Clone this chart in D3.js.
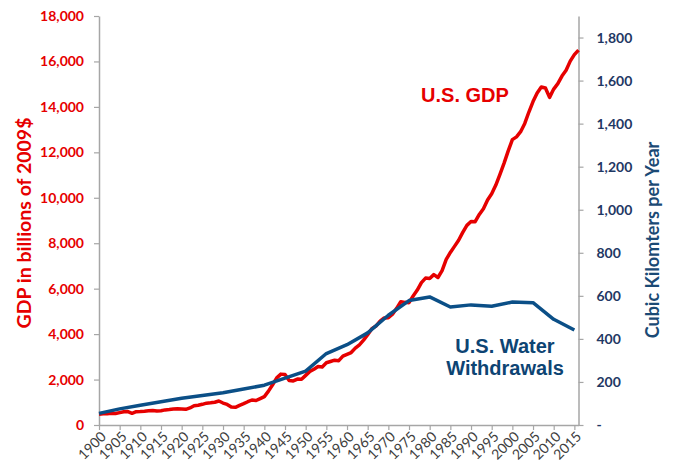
<!DOCTYPE html>
<html>
<head>
<meta charset="utf-8">
<script src="https://cdn.jsdelivr.net/npm/d3@7"></script>
<style>
  body { margin: 0; background: #fff; }
  svg text { font-family: Lato, "Open Sans", sans-serif; }
</style>
</head>
<body>
<div id="chart"></div>
<script>
// real GDP, billions of 2009$
const gdpYears = d3.range(1900, 2017);
const gdpValues = [
  470, 490, 500, 513, 505, 545, 585, 590, 515, 585,
  595, 610, 630, 640, 615, 630, 665, 680, 704, 710,
  704, 690, 750, 850, 870, 910, 960, 975, 1000, 1056,
  966, 904, 788, 778, 862, 939, 1025, 1100, 1078, 1164,
  1250, 1490, 1772, 2073, 2239, 2218, 1960, 1939, 2020, 2009,
  2184, 2360, 2456, 2571, 2556, 2739, 2794, 2853, 2832, 3029,
  3108, 3188, 3384, 3530, 3735, 3976, 4238, 4355, 4569, 4712,
  4722, 4878, 5134, 5424, 5397, 5385, 5675, 5937, 6267, 6466,
  6450, 6618, 6491, 6792, 7285, 7594, 7861, 8133, 8475, 8786,
  8955, 8948, 9267, 9521, 9905, 10175, 10562, 11035, 11526, 12066,
  12560, 12682, 12909, 13271, 13774, 14234, 14614, 14874, 14830, 14419,
  14784, 15021, 15355, 15612, 16013, 16300, 16500
];

// water withdrawals, cubic km per year
const waterYears = [1900, 1905, 1910, 1915, 1920, 1925, 1930, 1935, 1940, 1945,
  1950, 1955, 1960, 1965, 1970, 1975, 1980, 1985, 1990, 1995, 2000, 2005, 2010, 2015];
const waterValues = [54, 75, 92, 108, 124, 137, 150, 167, 185, 218,
  250, 332, 373, 428, 510, 578, 595, 548, 558, 552, 571, 568, 491, 441];

const gdpTicks = d3.range(0, 18001, 2000);
const waterTicks = d3.range(0, 1801, 200);
const yearTicks = d3.range(1900, 2016, 5);

const width = 674;
const height = 473;
const plotLeft = 99;
const plotRight = 578.5;
const plotTop = 16;
const plotBottom = 425;

const red = '#e60000';
const blue = '#0b4f87';
const navy = '#1f3864';

const svg = d3.select('#chart')
  .append('svg')
  .attr('width', width)
  .attr('height', height)

const xScale = d3.scaleLinear()
  .domain([1900, 2016])
  .range([plotLeft, plotRight])

const yLeft = d3.scaleLinear()
  .domain([0, 18000])
  .range([plotBottom, plotTop])

const yRight = d3.scaleLinear()
  .domain([0, 1900])
  .range([plotBottom, plotTop])

const styleAxis = (g) => {
  g.select('.domain').attr('stroke', '#a6a6a6').attr('stroke-width', 1.5)
  g.selectAll('.tick line').attr('stroke', '#a6a6a6').attr('stroke-width', 1.2)
}

// left axis
svg.append('g')
  .attr('transform', `translate(${plotLeft}, 0)`)
  .call(d3.axisLeft(yLeft).tickValues(gdpTicks).tickFormat(d3.format(',')).tickSize(5).tickSizeOuter(0).tickPadding(10))
  .call(styleAxis)
  .call(g => g.selectAll('text')
    .style('font-size', '14px').style('font-weight', 'bold').attr('fill', red))

// right axis
svg.append('g')
  .attr('transform', `translate(${plotRight}, 0)`)
  .call(d3.axisRight(yRight).tickValues(waterTicks).tickFormat(d => d === 0 ? '-' : d3.format(',')(d)).tickSize(5).tickSizeOuter(0).tickPadding(13))
  .call(styleAxis)
  .call(g => g.selectAll('text')
    .style('font-size', '14px').style('font-weight', 'bold').attr('fill', navy))

// x axis
svg.append('g')
  .attr('transform', `translate(0, ${plotBottom})`)
  .call(d3.axisBottom(xScale).tickValues(yearTicks).tickFormat(d3.format('d')).tickSize(5).tickSizeOuter(0))
  .call(styleAxis)
  .call(g => g.selectAll('text')
    .style('font-size', '14px').attr('fill', '#404040')
    .style('text-anchor', 'end')
    .attr('y', 0).attr('dx', 0).attr('dy', '0.35em')
    .attr('transform', 'translate(4, 9) rotate(-45)'))

// lines
const gdpLine = d3.line()
  .x((d, i) => xScale(gdpYears[i]))
  .y(d => yLeft(d))

const waterLine = d3.line()
  .x((d, i) => xScale(waterYears[i]))
  .y(d => yRight(d))

svg.append('path')
  .datum(gdpValues)
  .attr('d', gdpLine)
  .attr('fill', 'none')
  .attr('stroke', red)
  .attr('stroke-width', 3.5)
  .attr('stroke-linejoin', 'round')

svg.append('path')
  .datum(waterValues)
  .attr('d', waterLine)
  .attr('fill', 'none')
  .attr('stroke', blue)
  .attr('stroke-width', 3.5)
  .attr('stroke-linejoin', 'round')

// axis titles
svg.append('text')
  .attr('transform', 'translate(31, 223) rotate(-90)')
  .style('text-anchor', 'middle')
  .style('font-size', '19.5px')
  .style('font-weight', 'bold')
  .attr('fill', red)
  .text('GDP in billions of 2009$')

svg.append('text')
  .attr('transform', 'translate(659, 240) rotate(-90)')
  .style('text-anchor', 'middle')
  .style('font-size', '18px')
  .style('font-weight', 'bold')
  .attr('fill', '#1b4a75')
  .text('Cubic Kilomters per Year')

// series labels
svg.append('text')
  .attr('x', 465)
  .attr('y', 102)
  .style('text-anchor', 'middle')
  .style('font-family', '"Liberation Sans", Arial, sans-serif')
  .style('font-size', '20px')
  .style('font-weight', 'bold')
  .attr('fill', red)
  .text('U.S. GDP')

svg.append('text')
  .attr('x', 505)
  .attr('y', 353)
  .style('text-anchor', 'middle')
  .style('font-family', '"Liberation Sans", Arial, sans-serif')
  .style('font-size', '20px')
  .style('font-weight', 'bold')
  .attr('fill', '#0d4473')
  .text('U.S. Water')

svg.append('text')
  .attr('x', 505)
  .attr('y', 375)
  .style('text-anchor', 'middle')
  .style('font-family', '"Liberation Sans", Arial, sans-serif')
  .style('font-size', '20px')
  .style('font-weight', 'bold')
  .attr('fill', '#0d4473')
  .text('Withdrawals')
</script>
</body>
</html>
